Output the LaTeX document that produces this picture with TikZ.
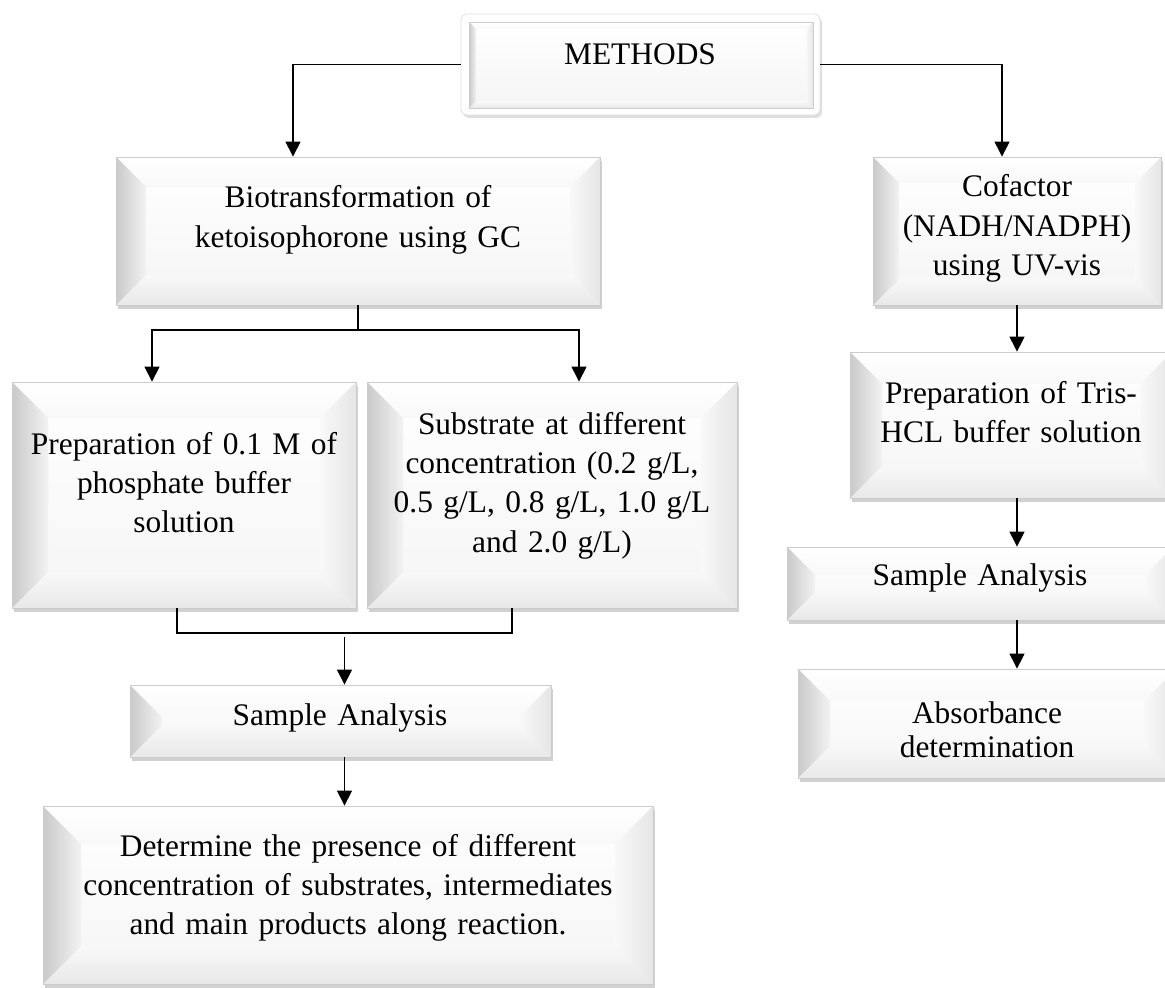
\documentclass[tikz,border=0pt]{standalone}
\usepackage{fontspec}
\setmainfont{Liberation Serif}
\usetikzlibrary{shadows,fit,arrows.meta}
\tikzset{
  bevel/.style={rectangle, inner sep=0pt, draw=gray!40, line width=0.4pt, fill=white,
    path picture={
      \path (path picture bounding box.south west) coordinate (bSW)
            (path picture bounding box.north east) coordinate (bNE)
            (path picture bounding box.north west) coordinate (bNW)
            (path picture bounding box.south east) coordinate (bSE);
      \shade[top color=white, bottom color=gray!8] (bSW) rectangle (bNE);
      \shade[top color=white, bottom color=gray!5]
        (bNW) -- (bNE) -- ([shift={(-#1,-#1)}]bNE) -- ([shift={(#1,-#1)}]bNW) -- cycle;
      \shade[left color=gray!5, right color=gray!20]
        (bNE) -- (bSE) -- ([shift={(-#1,#1)}]bSE) -- ([shift={(-#1,-#1)}]bNE) -- cycle;
      \shade[top color=gray!5, bottom color=gray!18]
        (bSW) -- (bSE) -- ([shift={(-#1,#1)}]bSE) -- ([shift={(#1,#1)}]bSW) -- cycle;
      \shade[left color=gray!42, right color=gray!10]
        (bSW) -- (bNW) -- ([shift={(#1,-#1)}]bNW) -- ([shift={(#1,#1)}]bSW) -- cycle;
    }},
  bbox/.style={bevel=#1,
    drop shadow={shadow xshift=1.2pt, shadow yshift=-2.2pt, opacity=0.3, fill=black!60}},
  frame/.style={rectangle, inner sep=0pt, rounded corners=3pt, fill=white, draw=gray!25,
    line width=0.4pt,
    drop shadow={shadow xshift=1pt, shadow yshift=-1.5pt, opacity=0.25, fill=black!50}},
  txt/.style={font=\fontsize{15.7}{19.7}\selectfont, align=center, anchor=base,
    inner sep=0pt, text width=#1},
  conn/.style={draw=black, line width=0.6pt},
  arr/.style={conn, -{Triangle[width=7.5pt,length=7.5pt]}},
}
\begin{document}
\begin{tikzpicture}[x=0.5pt,y=-0.5pt]
\useasboundingbox (0,0) rectangle (1165,988);

% ---- boxes ----
\node[frame, fit={(461,14) (820,115)}] (methods) {};
\node[bevel=3.5pt, fit={(469,22) (813,108)}] (methodsin) {};
\node[txt=150pt] (methods-t) at (640,65) {METHODS};

\node[bbox=15pt, fit={(116,157) (600,305)}] (bio) {};
\node[txt=230pt] (bio-t) at (358,208) {Biotransformation of\\ketoisophorone using GC};

\node[bbox=13pt, fit={(873,157) (1161,305)}] (cof) {};
\node[txt=135pt] (cof-t) at (1017,197) {Cofactor\\(NADH/NADPH)\\using UV-vis};

\node[bbox=18pt, fit={(12,382) (356,608)}] (prep) {};
\node[txt=168pt] (prep-t) at (184,454) {Preparation of 0.1 M of\\phosphate buffer\\solution};

\node[bbox=18pt, fit={(367,382) (737,608)}] (sub) {};
\node[txt=180pt] (sub-t) at (552,434) {Substrate at different\\concentration (0.2 g/L,\\0.5 g/L, 0.8 g/L, 1.0 g/L\\and 2.0 g/L)};

\node[bbox=16pt, fit={(850,352) (1172,498)}] (tris) {};
\node[txt=155pt] (tris-t) at (1011,403) {Preparation of Tris-\\HCL buffer solution};

\node[bbox=14pt, fit={(787,547) (1173,620)}] (sar) {};
\node[txt=150pt] (sar-t) at (980,585) {Sample Analysis};

\node[bbox=16pt, fit={(798,669) (1176,778)}] (abs) {};
\node[txt=150pt, font=\fontsize{15.7}{17}\selectfont] (abs-t) at (987,723) {Absorbance\\determination};

\node[bbox=16pt, fit={(130,685) (551,757)}] (sal) {};
\node[txt=150pt] (sal-t) at (340,725) {Sample Analysis};

\node[bbox=19pt, fit={(43,806) (653,984)}] (det) {};
\node[txt=290pt] (det-t) at (348,856) {Determine the presence of different\\concentration of substrates, intermediates\\and main products along reaction.};

% ---- connectors ----
\draw[arr] (methods.west) -| ([xshift=-32.5pt]bio.north);
\draw[arr] (methods.east) -| ([xshift=-7.5pt]cof.north);

\coordinate (split) at (358,330);
\draw[conn] (bio.south) -- (split);
\draw[arr] (split) -| ([xshift=-16pt]prep.north);
\draw[arr] (split) -| ([xshift=13.5pt]sub.north);

\coordinate (join) at (344.5,633);
\draw[conn] ([xshift=-3.5pt]prep.south) |- (join) -| ([xshift=-20pt]sub.south);
\draw[arr] ([yshift=-2pt]join) -- (join |- sal.north);
\draw[arr] (join |- sal.south) -- (join |- det.north);

\draw[arr] (cof.south) -- (cof.south |- tris.north);
\draw[arr] (cof.south |- tris.south) -- (cof.south |- sar.north);
\draw[arr] (cof.south |- sar.south) -- (cof.south |- abs.north);
\end{tikzpicture}
\end{document}
